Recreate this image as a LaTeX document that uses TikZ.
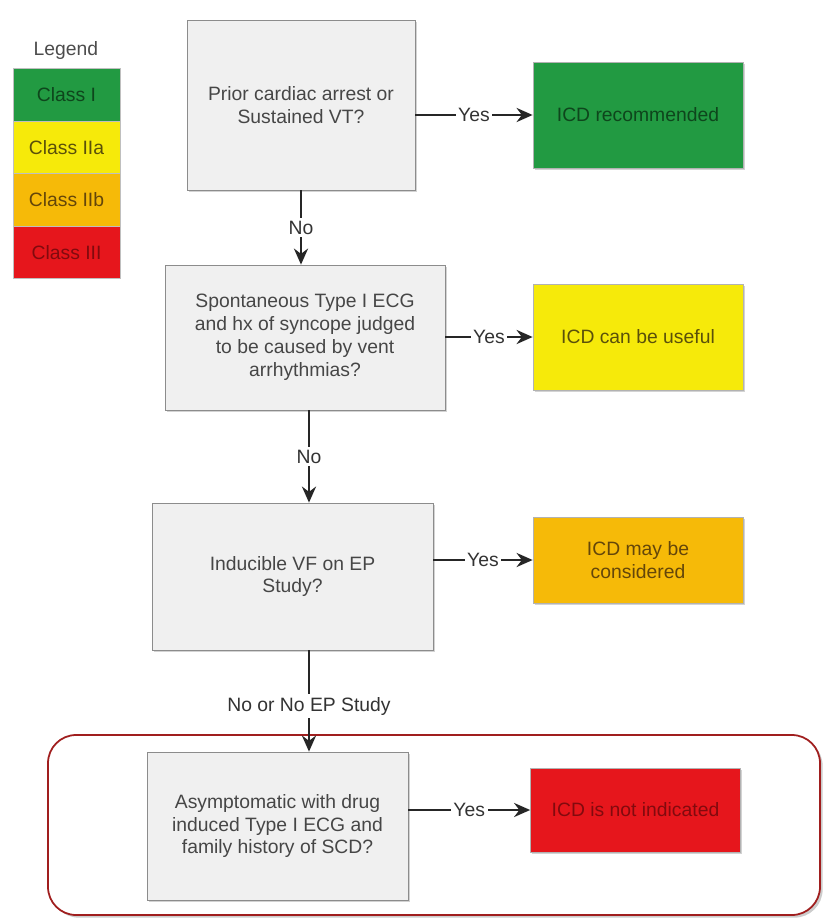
\documentclass[tikz,border=0pt]{standalone}
\usepackage{fontspec}
\setmainfont{Liberation Sans}
\usepackage{xcolor}
\usetikzlibrary{arrows.meta,positioning,shadows}

\definecolor{cI}{RGB}{34,154,66}
\definecolor{cIIa}{RGB}{246,234,10}
\definecolor{cIIb}{RGB}{246,186,8}
\definecolor{cIII}{RGB}{230,22,28}
\definecolor{tI}{RGB}{14,70,28}
\definecolor{tIIa}{RGB}{90,80,10}
\definecolor{tIIb}{RGB}{100,70,10}
\definecolor{tIII}{RGB}{130,10,14}
\definecolor{qfill}{RGB}{240,240,240}
\definecolor{qtext}{RGB}{70,70,70}
\definecolor{hilite}{RGB}{160,30,30}

\begin{document}
\begin{tikzpicture}[
  font=\fontsize{11}{13}\selectfont, >={Stealth[length=3.2mm,width=2.8mm]},
  qbox/.style={draw=black!45, fill=qfill, text=qtext, align=center, inner sep=4pt,
               drop shadow={shadow xshift=1pt, shadow yshift=-1pt, opacity=.35}},
  res/.style={draw=black!30, align=center, minimum width=4.2cm,
              drop shadow={shadow xshift=1pt, shadow yshift=-1pt, opacity=.35}},
  legbox/.style={draw=black!25, minimum width=2.14cm, minimum height=1.05cm},
  flow/.style={->, line width=1.6pt, black!85},
  lbl/.style={fill=white, inner sep=1.5pt, text=black!80}]
\useasboundingbox (0,0) rectangle (16.54,-18.38);
% legend
\node[text=black!70] (legt) at (1.32,-1.0) {Legend};
\foreach \k/\t [count=\i] in {I/Class I, IIa/Class IIa, IIb/Class IIb, III/Class III}
  \node[legbox, fill=c\k, text=t\k] (leg\k) at (1.33,{-1.9-1.05*(\i-1)}) {\t};
% highlighted last step
\draw[hilite, line width=1pt, rounded corners=16pt, fill=white,
      drop shadow={shadow xshift=1.5pt, shadow yshift=-1.5pt, opacity=.4}]
  (0.96,-14.70) rectangle (16.40,-18.30);
% questions
\node[qbox, minimum width=4.56cm, minimum height=3.4cm] (q1) at (6.02,-2.10)
  {Prior cardiac arrest or\\Sustained VT?};
\node[qbox, minimum width=5.6cm, minimum height=2.9cm] (q2) at (6.10,-6.75)
  {Spontaneous Type I ECG\\and hx of syncope judged\\to be caused by vent\\arrhythmias?};
\node[qbox, minimum width=5.62cm, minimum height=2.94cm] (q3) at (5.85,-11.53)
  {Inducible VF on EP\\Study?};
\node[qbox, minimum width=5.22cm, minimum height=2.96cm] (q4) at (5.55,-16.52)
  {Asymptomatic with drug\\induced Type I ECG and\\family history of SCD?};
% recommendations
\node[res, fill=cI, text=tI, minimum height=2.12cm] (r1) at (12.76,-2.30) {ICD recommended};
\node[res, fill=cIIa, text=tIIa, minimum height=2.12cm] (r2) at (12.76,-6.74) {ICD can be useful};
\node[res, fill=cIIb, text=tIIb, minimum height=1.72cm] (r3) at (12.76,-11.20) {ICD may be\\considered};
\node[res, fill=cIII, text=tIII, minimum height=1.68cm] (r4) at (12.71,-16.20) {ICD is not indicated};
% yes arrows
\foreach \n in {1,2,3,4}
  \draw[flow] (q\n.east |- r\n.west) -- node[lbl] {Yes} (r\n.west);
% no arrows
\draw[flow] (q1.south) -- node[lbl] {No} (q1.south |- q2.north);
\coordinate (down) at (6.18,0);
\draw[flow] (down |- q2.south) -- node[lbl] {No} (down |- q3.north);
\draw[flow] (down |- q3.south) -- node[lbl, pos=.55] {No or No EP Study} (down |- q4.north);
\end{tikzpicture}
\end{document}
